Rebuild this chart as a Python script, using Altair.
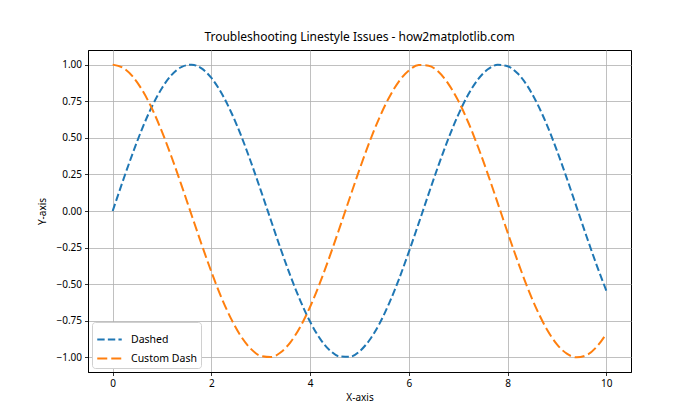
import altair as alt
import pandas as pd

x_vals = [round(i * 0.2, 1) for i in range(51)]
dashed_vals = [0.000, 0.199, 0.389, 0.565, 0.717, 0.841, 0.932, 0.985, 1.000, 0.974,
               0.909, 0.808, 0.675, 0.516, 0.335, 0.141, -0.058, -0.256, -0.443, -0.612,
               -0.757, -0.872, -0.952, -0.994, -0.996, -0.959, -0.883, -0.773, -0.631, -0.465,
               -0.279, -0.083, 0.117, 0.312, 0.494, 0.657, 0.794, 0.899, 0.968, 0.999,
               0.989, 0.941, 0.855, 0.734, 0.585, 0.412, 0.223, 0.025, -0.174, -0.366,
               -0.544]
custom_vals = [1.000, 0.980, 0.921, 0.825, 0.697, 0.540, 0.362, 0.170, -0.029, -0.227,
               -0.416, -0.589, -0.737, -0.857, -0.942, -0.990, -0.998, -0.967, -0.897, -0.791,
               -0.654, -0.490, -0.307, -0.112, 0.087, 0.284, 0.469, 0.635, 0.776, 0.886,
               0.960, 0.997, 0.993, 0.951, 0.869, 0.754, 0.608, 0.439, 0.252, 0.054,
               -0.146, -0.339, -0.520, -0.679, -0.811, -0.911, -0.975, -1.000, -0.985, -0.930,
               -0.839]
series_names = ["Dashed", "Custom Dash"]

rows = []
for name, vals in zip(series_names, [dashed_vals, custom_vals]):
    for xv, yv in zip(x_vals, vals):
        rows.append({"x": xv, "y": yv, "series": name})
df = pd.DataFrame(rows)

FONT = "Noto Sans"

chart = alt.Chart(df).mark_line(strokeWidth=2, interpolate="monotone", clip=True).encode(
    x=alt.X("x:Q", title="X-axis",
            scale=alt.Scale(domain=[-0.5, 10.5], nice=False, zero=False),
            axis=alt.Axis(values=[0, 2, 4, 6, 8, 10], format="d")),
    y=alt.Y("y:Q", title="Y-axis",
            scale=alt.Scale(domain=[-1.1, 1.1], nice=False, zero=False),
            axis=alt.Axis(values=[-1.0, -0.75, -0.5, -0.25, 0.0, 0.25, 0.5, 0.75, 1.0], format=".2f")),
    color=alt.Color("series:N", sort=series_names,
                    scale=alt.Scale(domain=series_names, range=["#1f77b4", "#ff7f0e"]),
                    legend=alt.Legend(title=None, orient="bottom-left", offset=4,
                                      fillColor="white", strokeColor="#d0d0d0", cornerRadius=3,
                                      padding=4, symbolType="stroke", symbolSize=600,
                                      symbolStrokeWidth=2, labelFontSize=10.5, labelFont=FONT,
                                      labelColor="black", rowPadding=-10, labelOffset=8)),
    strokeDash=alt.StrokeDash("series:N", sort=series_names,
                              scale=alt.Scale(domain=series_names, range=[[7.4, 3.2], [10, 4]]),
                              legend=None),
).properties(
    width=543, height=322,
    title=alt.Title("Troubleshooting Linestyle Issues - how2matplotlib.com",
                    fontSize=12, fontWeight="normal", font=FONT, color="black", offset=6),
    padding={"left": 80, "top": 42, "right": 40, "bottom": 40},
    autosize=alt.AutoSizeParams(type="none"),
).configure_view(
    stroke="black", strokeWidth=1
).configure_axis(
    grid=True, gridColor="#b0b0b0", gridWidth=0.8,
    domainColor="black", domainWidth=1,
    tickColor="black", tickSize=3.5, tickWidth=0.8,
    labelFont=FONT, labelFontSize=10, labelColor="black", labelPadding=3,
    titleFont=FONT, titleFontSize=10, titleFontWeight="normal", titleColor="black",
).configure_axisY(titlePadding=8).configure_axisX(titlePadding=4)

chart.save("out.html", embed_options={"renderer": "svg", "actions": False})
